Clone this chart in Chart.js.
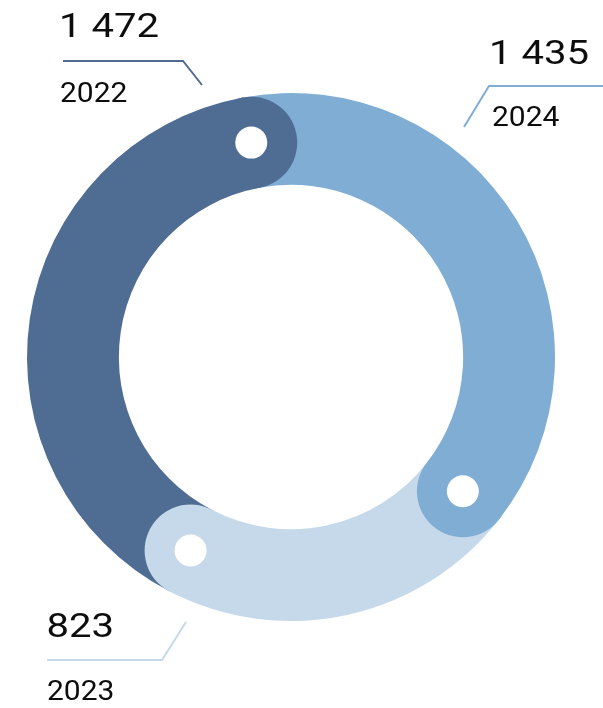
<!DOCTYPE html>
<html>
<head>
<meta charset="utf-8">
<script src="https://cdn.jsdelivr.net/npm/chart.js@4"></script>
<style>
  html, body { margin: 0; padding: 0; background: #fff; }
  #wrap { width: 603px; height: 708px; }
</style>
</head>
<body>
<div id="wrap"><canvas id="ring" width="603" height="708"></canvas></div>
<script>
// clockwise from the top: 2024, 2023, 2022
const years = ['2024', '2023', '2022'];
const totals = [1435, 823, 1472];
const colors = ['#7fadd3', '#c6d9eb', '#4f6c93'];

// where each callout sits (text baselines, leader line points)
const callouts = [
  { value: [489, 64], year: [492, 126], line: [[603, 86], [489, 86], [464, 127]] },
  { value: [46.5, 637], year: [47, 700], line: [[47, 660], [162, 660], [186, 622]] },
  { value: [59, 37], year: [60, 102], line: [[63, 61], [183, 61], [202, 85]] }
];

const fmt = v => String(v).replace(/\B(?=(\d{3})+(?!\d))/g, ' ');

// round cap + white dot at the end of every slice
const roundedEnds = {
  id: 'roundedEnds',
  afterDatasetsDraw(chart) {
    const ctx = chart.ctx;
    chart.getDatasetMeta(0).data.forEach((arc, i) => {
      const { x, y, endAngle, innerRadius, outerRadius } =
        arc.getProps(['x', 'y', 'endAngle', 'innerRadius', 'outerRadius'], true);
      const mid = (innerRadius + outerRadius) / 2;
      const half = (outerRadius - innerRadius) / 2;
      const cx = x + mid * Math.cos(endAngle);
      const cy = y + mid * Math.sin(endAngle);
      ctx.save();
      ctx.fillStyle = colors[i];
      ctx.beginPath();
      ctx.arc(cx, cy, half, 0, Math.PI * 2);
      ctx.fill();
      ctx.fillStyle = '#fff';
      ctx.beginPath();
      ctx.arc(cx, cy, 16, 0, Math.PI * 2);
      ctx.fill();
      ctx.restore();
    });
  }
};

// wide figures: stretch the text sideways a little
function wideText(ctx, text, x, y, sx) {
  ctx.save();
  ctx.translate(x, y);
  ctx.scale(sx, 1);
  ctx.fillText(text, 0, 0);
  ctx.restore();
}

const calloutLabels = {
  id: 'calloutLabels',
  afterDraw(chart) {
    const ctx = chart.ctx;
    ctx.save();
    ctx.textAlign = 'left';
    ctx.textBaseline = 'alphabetic';
    callouts.forEach((c, i) => {
      ctx.strokeStyle = colors[i];
      ctx.lineWidth = 2;
      ctx.beginPath();
      c.line.forEach(([px, py], k) => k ? ctx.lineTo(px, py) : ctx.moveTo(px, py));
      ctx.stroke();

      ctx.fillStyle = '#0d0d0d';
      ctx.font = '400 34px Roboto';
      wideText(ctx, fmt(totals[i]), c.value[0], c.value[1], 1.18);
      ctx.font = '400 28px Roboto';
      wideText(ctx, years[i], c.year[0], c.year[1], 1.07);
    });
    ctx.restore();
  }
};

new Chart(document.getElementById('ring'), {
  type: 'doughnut',
  data: {
    labels: years,
    datasets: [{
      data: totals,
      backgroundColor: colors,
      borderWidth: 0,
      hoverOffset: 0
    }]
  },
  options: {
    responsive: false,
    animation: false,
    rotation: -10.5,
    cutout: '65.2%',
    layout: { padding: { left: 27, right: 48, top: 93, bottom: 87 } },
    plugins: {
      legend: { display: false },
      tooltip: { enabled: false }
    }
  },
  plugins: [roundedEnds, calloutLabels]
});
</script>
</body>
</html>
